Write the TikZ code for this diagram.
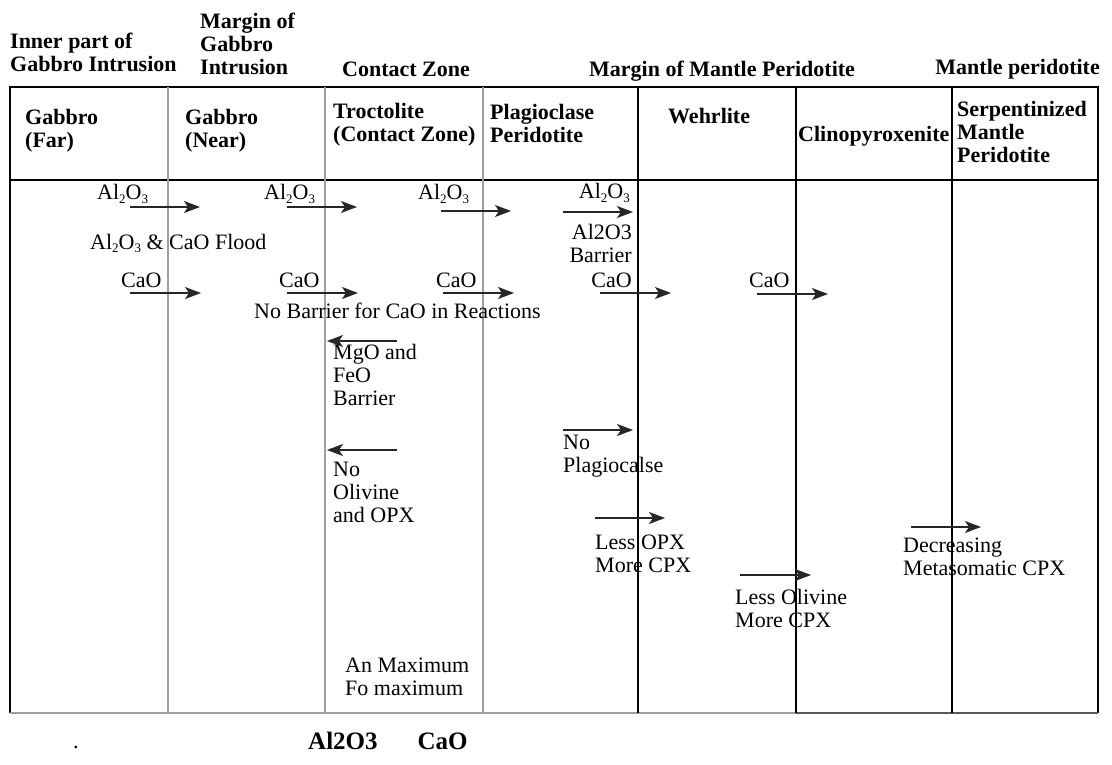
\documentclass[tikz,border=0pt]{standalone}
\usepackage{fontspec}
\setmainfont{Liberation Serif}
\usetikzlibrary{arrows.meta}
\newcommand{\lowsub}[1]{\raisebox{-0.35ex}{\fontsize{13}{13}\selectfont #1}}
\newcommand{\alo}{Al\lowsub{2}O\lowsub{3}}
\newcommand{\stackl}[1]{\begin{tabular}[t]{@{}l@{}}#1\end{tabular}}
\newcommand{\stackr}[1]{\begin{tabular}[t]{@{}r@{}}#1\end{tabular}}

\begin{document}
\begin{tikzpicture}[x=1pt, y=-1pt, >={Stealth[length=16pt, width=12pt, inset=4pt]},
  every node/.style={inner sep=0pt, font=\fontsize{22}{23}\selectfont},
  head/.style={anchor=base west, font=\fontsize{22}{23}\selectfont\bfseries},
  note/.style={anchor=base west},
  flux/.style={->, line width=1.4pt, black!85},
  zone/.style={line width=2pt, gray!75},
  rim/.style={line width=1.2pt}]
  \useasboundingbox (0,0) rectangle (1112,765);
  % Table frame and columns
  \draw[rim] (10,713) -- (10,87) -- (1098,87) -- (1098,713);
  \draw[rim] (10,180) -- (1098,180);
  \draw[zone] (10,713) -- (796,713);
  \draw[rim, gray!70!black] (796,713) -- (1098,713);
  \foreach \x in {168,325,483} \draw[zone] (\x,87) -- (\x,713);
  \draw[line width=2.2pt] (638,87) -- (638,713);
  \foreach \x in {796,952} \draw[rim] (\x,87) -- (\x,713);
  % Zones above the table
  \node[head] (inner) at (10,49) {\stackl{Inner part of\\Gabbro Intrusion}};
  \node[head] (margin) at (200,29) {\stackl{Margin of\\Gabbro\\Intrusion}};
  \node[head] (contact) at (342,77) {Contact Zone};
  \node[head] (mmargin) at (589,77) {Margin of Mantle Peridotite};
  \node[head, anchor=base east] (mantle) at (1100,75) {Mantle peridotite};
  % Rock types
  \node[head] (far) at (25,125) {\stackl{Gabbro\\(Far)}};
  \node[head] (near) at (185,125) {\stackl{Gabbro\\(Near)}};
  \node[head] (troc) at (333,119) {\stackl{Troctolite\\(Contact Zone)}};
  \node[head] (plag) at (490,120) {\stackl{Plagioclase\\Peridotite}};
  \node[head] (wehr) at (668,124) {Wehrlite};
  \node[head] (cpx) at (798,142) {Clinopyroxenite};
  \node[head] (serp) at (957,117) {\stackl{Serpentinized\\Mantle\\Peridotite}};
  % Al2O3 and CaO fluxes
  \foreach \lx/\ax/\ay [count=\i] in {97/130/207, 264/287/207, 418/441/211} {
    \node[note] (al\i) at (\lx,200) {\alo};
    \draw[flux] (\ax,\ay) -- ++(70,0);
  }
  \node[note, anchor=base east] (al4) at (630,199) {\alo};
  \draw[flux] (563,212) -- (633,212);
  \node[note] (flood) at (90,249) {\alo{} \& CaO Flood};
  \node[note, anchor=base east] (albar) at (632,240) {\stackr{Al2O3\\Barrier}};
  \foreach \lx/\ax [count=\i] in {121/130, 279/287, 436/443} {
    \node[note] (ca\i) at (\lx,287) {CaO};
    \draw[flux] (\ax,293) -- ++(71,0);
  }
  \node[note, anchor=base east] (ca4) at (632,287) {CaO};
  \draw[flux] (600,293) -- (671,293);
  \node[note] (ca5) at (749,287) {CaO};
  \draw[flux] (757,294) -- (828,294);
  \node[note] (nobar) at (254,318) {No Barrier for CaO in Reactions};
  % Contact zone reactions
  \draw[flux] (397,341) -- (327,341);
  \node[note] (mgo) at (333,359) {\stackl{MgO and\\FeO\\Barrier}};
  \draw[flux] (397,450) -- (327,450);
  \node[note] (noolv) at (333,476) {\stackl{No\\Olivine\\and OPX}};
  \node[note] (anmax) at (345,672) {\stackl{An Maximum\\Fo maximum}};
  % Mantle side reactions
  \draw[flux] (563,430) -- (633,430);
  \node[note] (noplag) at (563,449) {\stackl{No\\Plagiocalse}};
  \draw[flux] (595,518) -- (665,518);
  \node[note] (lessopx) at (595,549) {\stackl{Less OPX\\More CPX}};
  \draw[flux] (740,575) -- (811,575);
  \node[note] (lessolv) at (735,604) {\stackl{Less Olivine\\More CPX}};
  \draw[flux] (911,527) -- (981,527);
  \node[note] (decr) at (903,552) {\stackl{Decreasing\\Metasomatic CPX}};
  % Caption line
  \node[note] (dot) at (73,748) {.};
  \node[head, font=\fontsize{25}{26}\selectfont\bfseries] (caption) at (308,749) {Al2O3\hspace{40pt}CaO};
\end{tikzpicture}
\end{document}
